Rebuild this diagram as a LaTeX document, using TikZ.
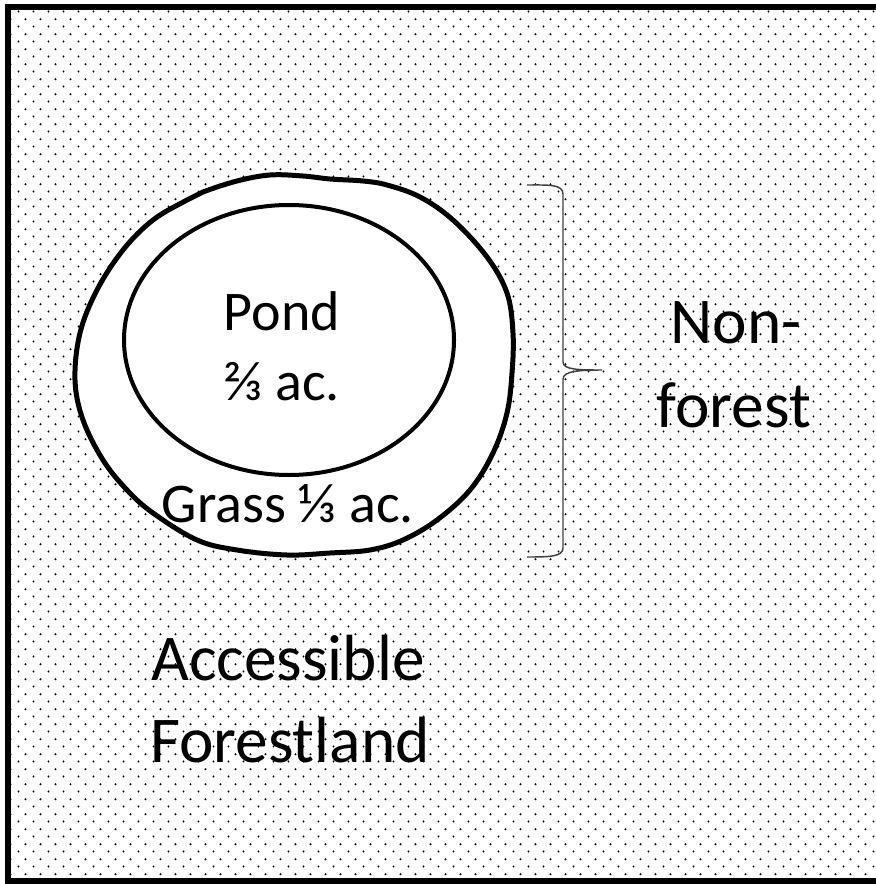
\documentclass[tikz,border=0pt]{standalone}
\usepackage{fontspec}
\setmainfont{Carlito}
\usetikzlibrary{patterns}

\pgfdeclarepatternformonly{pxdots}{\pgfpointorigin}{\pgfpoint{11.25pt}{11pt}}{\pgfpoint{11.25pt}{11pt}}{%
  \pgfpathcircle{\pgfpoint{2.8pt}{2.75pt}}{0.85pt}%
  \pgfpathcircle{\pgfpoint{8.4pt}{8.25pt}}{0.85pt}%
  \pgfusepath{fill}}

\tikzset{
  smalltext/.style={anchor=base, font=\fontsize{42}{50}\selectfont},
  bigtext/.style={anchor=base, font=\fontsize{49}{59}\selectfont},
  outline/.style={line width=3.75pt, fill=white},
}

\begin{document}
\begin{tikzpicture}[x=0.75pt, y=-0.75pt]   %% pixel units, y downwards
        \useasboundingbox (0,0) rectangle (875,884);
        \draw [line width=4.5pt, pattern=pxdots, pattern color=black] (8,7) rectangle (890,881);
        % grass strip round the pond
        \draw [outline] plot [smooth cycle, tension=0.6] coordinates {
            (203,192) (237,181) (270,175) (303,176) (330,179) (363,181) (387,185)
            (420,197) (453,220) (487,257) (507,293) (513,333) (512,373) (507,413)
            (493,453) (470,490) (437,520) (403,540) (370,550) (330,553) (287,555)
            (237,550) (197,540) (153,513) (127,490) (103,460) (83,420) (75,380)
            (80,333) (97,290) (123,250) (153,220) (187,200)};
        \draw [line width=3pt] (289,340) ellipse (165 and 135);
        \draw [line width=1.1pt, black!75] (527,185) .. controls (548,185) and (563,184) .. (563,194) -- (563,362)
            .. controls (563,370) and (580,370) .. (602,370)
            .. controls (580,370) and (563,371) .. (563,379) -- (563,548)
            .. controls (563,557) and (548,557) .. (527,557);
        \node [smalltext] (pond) at (282,330) {Pond};
        \node [smalltext] (pondarea) at (281,400) {⅔ ac.};
        \node [smalltext] (grass) at (288,522) {Grass ⅓ ac.};
        \node [bigtext] (non) at (736,343) {Non-};
        \node [bigtext] (forest) at (734,427) {forest};
        \node [bigtext] (access) at (288,680) {Accessible};
        \node [bigtext] (forestland) at (290,762) {Forestland};
    \end{tikzpicture}
\end{document}
